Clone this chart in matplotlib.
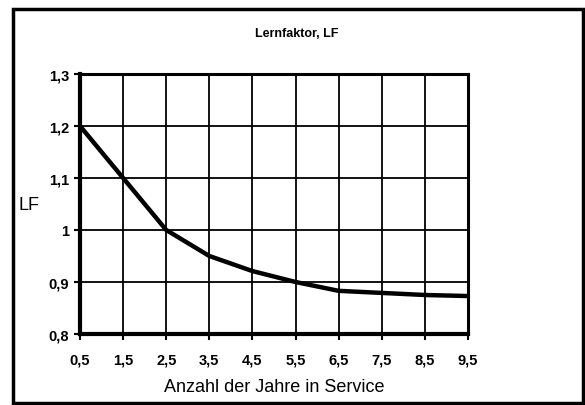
import matplotlib
matplotlib.use("Agg")
import matplotlib.pyplot as plt
from matplotlib.patches import Rectangle

years = [0.5, 1.5, 2.5, 3.5, 4.5, 5.5, 6.5, 7.5, 8.5, 9.5]
lf = [1.2, 1.1, 1.0, 0.95, 0.921, 0.9, 0.883, 0.879, 0.875, 0.873]
x_ticks = [0.5, 1.5, 2.5, 3.5, 4.5, 5.5, 6.5, 7.5, 8.5, 9.5]
x_labels = ["0,5", "1,5", "2,5", "3,5", "4,5", "5,5", "6,5", "7,5", "8,5", "9,5"]
y_ticks = [0.8, 0.9, 1.0, 1.1, 1.2, 1.3]
y_labels = ["0,8", "0,9", "1", "1,1", "1,2", "1,3"]

plt.rcParams['font.family'] = ['Liberation Sans', 'DejaVu Sans']

W, H = 585, 406
fig = plt.figure(figsize=(W/100, H/100), dpi=100)
ax = fig.add_axes([80/W, 1-335/H, (468-80)/W, (335-75)/H])

ax.plot(years, lf, color='black', lw=3.2, solid_capstyle='butt', zorder=3)
ax.set_xlim(0.5, 9.5)
ax.set_ylim(0.8, 1.3)
ax.set_xticks(x_ticks)
ax.set_xticklabels(x_labels, fontsize=10.5, fontweight='bold')
ax.set_yticks(y_ticks)
ax.set_yticklabels(y_labels, fontsize=10.5, fontweight='bold')
ax.grid(True, color='black', lw=1.3)
ax.tick_params(direction='out', length=4, width=1.5)
ax.tick_params(axis='x', pad=9)
ax.tick_params(axis='y', pad=4)
for side in ['left', 'bottom']:
    ax.spines[side].set_linewidth(3)
for side in ['top', 'right']:
    ax.spines[side].set_linewidth(2.2)

ax.set_xlabel("Anzahl der Jahre in Service", fontsize=13, va='center')
ax.xaxis.set_label_coords(0.5, -(388-335)/260)
fig.text(29/W, 1-206/H, "LF", fontsize=13, ha='center', va='center')
fig.text(297/W, 1-34/H, "Lernfaktor, LF", fontsize=9, fontweight='bold', ha='center', va='center')

fig.patches.append(Rectangle((13/W, 2/H), (583-13)/W, (396-2)/H, transform=fig.transFigure,
                             fill=False, edgecolor='black', lw=2.5))

fig.savefig("out.png", dpi=100)
